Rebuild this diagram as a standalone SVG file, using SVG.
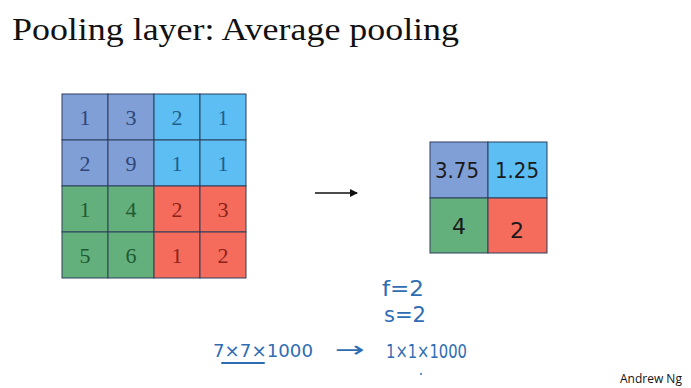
<svg xmlns="http://www.w3.org/2000/svg" width="691" height="388" viewBox="0 0 691 388">
<style>
.title{font-family:"Liberation Serif","DejaVu Serif",serif;font-size:31px;fill:#111}
.num{font-family:"Liberation Serif","DejaVu Serif",serif;font-size:22px;text-anchor:middle}
.cell{stroke:#2c3e5c;stroke-width:1}
.hw{font-family:"DejaVu Sans","Liberation Sans",sans-serif;fill:#2f6db3}
.out{font-family:"DejaVu Sans","Liberation Sans",sans-serif;font-size:22px;text-anchor:middle;fill:#1a1a1a}
.b{fill:#809fd7}.lb{fill:#5cbef2}.g{fill:#64b07c}.r{fill:#f56c5c}
.tb{fill:#2e4577}.tlb{fill:#1d5f8e}.tg{fill:#1e5a31}.tr{fill:#8c221a}
</style>
<defs>
<marker id="ah" markerWidth="8" markerHeight="8" refX="7" refY="4" orient="auto" markerUnits="userSpaceOnUse">
<path d="M0,0 L8,4 L0,8 Z" fill="#111"/>
</marker>
</defs>
<rect width="691" height="388" fill="#fff"/>
<text class="title" x="12" y="40" textLength="447" lengthAdjust="spacingAndGlyphs">Pooling layer: Average pooling</text>

<g id="input-grid">
<rect class="cell b" x="62" y="94" width="46" height="46"/>
<rect class="cell b" x="108" y="94" width="46" height="46"/>
<rect class="cell lb" x="154" y="94" width="46" height="46"/>
<rect class="cell lb" x="200" y="94" width="46" height="46"/>
<rect class="cell b" x="62" y="140" width="46" height="46"/>
<rect class="cell b" x="108" y="140" width="46" height="46"/>
<rect class="cell lb" x="154" y="140" width="46" height="46"/>
<rect class="cell lb" x="200" y="140" width="46" height="46"/>
<rect class="cell g" x="62" y="186" width="46" height="46"/>
<rect class="cell g" x="108" y="186" width="46" height="46"/>
<rect class="cell r" x="154" y="186" width="46" height="46"/>
<rect class="cell r" x="200" y="186" width="46" height="46"/>
<rect class="cell g" x="62" y="232" width="46" height="46"/>
<rect class="cell g" x="108" y="232" width="46" height="46"/>
<rect class="cell r" x="154" y="232" width="46" height="46"/>
<rect class="cell r" x="200" y="232" width="46" height="46"/>
<text class="num tb" x="85" y="125">1</text>
<text class="num tb" x="131" y="125">3</text>
<text class="num tlb" x="177" y="125">2</text>
<text class="num tlb" x="223" y="125">1</text>
<text class="num tb" x="85" y="171">2</text>
<text class="num tb" x="131" y="171">9</text>
<text class="num tlb" x="177" y="171">1</text>
<text class="num tlb" x="223" y="171">1</text>
<text class="num tg" x="85" y="217">1</text>
<text class="num tg" x="131" y="217">4</text>
<text class="num tr" x="177" y="217">2</text>
<text class="num tr" x="223" y="217">3</text>
<text class="num tg" x="85" y="263">5</text>
<text class="num tg" x="131" y="263">6</text>
<text class="num tr" x="177" y="263">1</text>
<text class="num tr" x="223" y="263">2</text>
</g>

<g id="connectors">
<line x1="315" y1="193" x2="357" y2="193" stroke="#111" stroke-width="1.3" marker-end="url(#ah)"/>
</g>

<g id="output-grid">
<rect class="cell b" x="430" y="142" width="58" height="56"/>
<rect class="cell lb" x="488" y="142" width="59" height="56"/>
<rect class="cell g" x="430" y="198" width="58" height="55"/>
<rect class="cell r" x="488" y="198" width="59" height="55"/>
<text class="out" x="457" y="178" font-size="20" textLength="44" lengthAdjust="spacingAndGlyphs">3.75</text>
<text class="out" x="517" y="178" font-size="20" textLength="44" lengthAdjust="spacingAndGlyphs">1.25</text>
<text class="out" x="459" y="234" font-size="23">4</text>
<text class="out" x="517" y="238" font-size="28">2</text>
</g>

<g id="notes">
<text class="hw" x="382" y="296" font-size="22" textLength="42" lengthAdjust="spacingAndGlyphs">f=2</text>
<text class="hw" x="384" y="322" font-size="22" textLength="42" lengthAdjust="spacingAndGlyphs">s=2</text>
<text class="hw" x="213" y="357" font-size="18" textLength="100" lengthAdjust="spacingAndGlyphs">7×7×1000</text>
<line x1="222" y1="363" x2="264" y2="363" stroke="#2f6db3" stroke-width="2" stroke-linecap="round"/>
<text class="hw" x="335" y="357" font-size="22" textLength="30" lengthAdjust="spacingAndGlyphs">→</text>
<text class="hw" x="386" y="358" font-size="20" textLength="81" lengthAdjust="spacingAndGlyphs">1×1×1000</text>
<circle cx="421" cy="374" r="1" fill="#2f6db3"/>
</g>

<text x="620" y="383" font-family="'Open Sans','Liberation Sans',sans-serif" font-size="12" fill="#111">Andrew Ng</text>
</svg>
